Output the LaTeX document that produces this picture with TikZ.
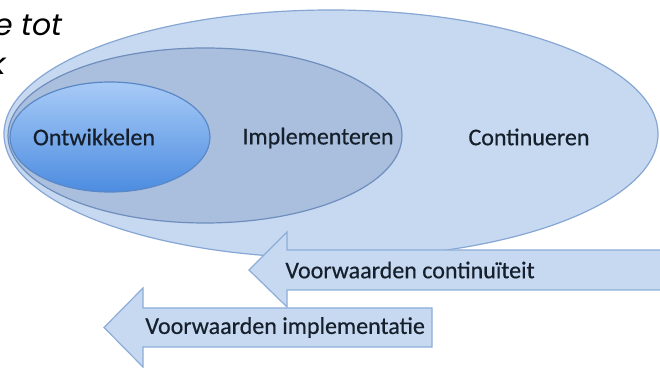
\documentclass[tikz,border=0pt]{standalone}
\usepackage{fontspec}
\setmainfont{Carlito}
\newfontfamily\calib[FakeBold=0.5]{Carlito}
\newfontfamily\gothic{Poppins}
\usetikzlibrary{shapes.geometric}

\definecolor{contfill}{HTML}{C7D9F0}
\definecolor{contline}{HTML}{86A6D4}
\definecolor{implfill}{HTML}{A9BFDD}
\definecolor{implline}{HTML}{6F8EBD}
\definecolor{ontwtop}{HTML}{A8CBF7}
\definecolor{ontwbot}{HTML}{4C8CE0}
\definecolor{ontwline}{HTML}{5A88C6}
\definecolor{arrfill}{HTML}{C6D9F1}
\definecolor{arrline}{HTML}{8DADD8}
\definecolor{txt}{HTML}{16202C}

\begin{document}
\begin{tikzpicture}[x=0.5pt,y=-0.5pt,
    oval/.style={ellipse,inner sep=0pt,line width=0.6pt},
    fase/.style={text=txt,font=\calib\fontsize{12}{14}\selectfont,inner sep=0pt},
    pijl/.style={fill=arrfill,draw=arrline,line width=0.6pt,line join=miter}]
  \clip (0,0) rectangle (660,368);
  % fasen
  \node[oval,fill=contfill,draw=contline,minimum width=327pt,minimum height=124pt] (cont) at (331,134) {};
  \node[oval,fill=implfill,draw=implline,minimum width=197pt,minimum height=87.5pt] (impl) at (205,135.5) {};
  \node[oval,top color=ontwtop,bottom color=ontwbot,draw=ontwline,minimum width=100pt,minimum height=55pt] (ontw) at (110,137) {};
  \node[fase] (ontwlbl) at (94,137) {Ontwikkelen};
  \node[fase] (impllbl) at (318,138) {Implementeren};
  \node[fase] (contlbl) at (529,137) {Continueren};
  % voorwaarden
  \draw[pijl] (287,250) -- (287,232) -- (249,270) -- (287,307) -- (287,290) -- (670,290) -- (670,250) -- cycle;
  \draw[pijl] (143,308) -- (143,288) -- (104,327.5) -- (143,367) -- (143,347) -- (432,347) -- (432,308) -- cycle;
  \node[fase,anchor=west] (vcont) at (285,270) {Voorwaarden continuïteit};
  \node[fase,anchor=west] (vimpl) at (145,327.5) {Voorwaarden implementatie};
  % titel (afgesneden)
  \node[anchor=base east,inner sep=0pt,font=\gothic\itshape\fontsize{15}{18}\selectfont] (titel1) at (63,36) {e tot};
  \node[anchor=base east,inner sep=0pt,font=\gothic\itshape\fontsize{15}{18}\selectfont] (titel2) at (6,75) {k};
\end{tikzpicture}
\end{document}
